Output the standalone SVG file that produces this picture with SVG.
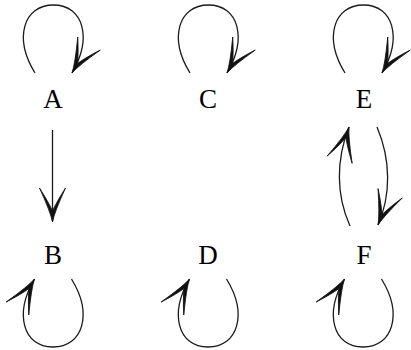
<svg xmlns="http://www.w3.org/2000/svg" width="411" height="350" viewBox="0 0 411 350">
<style>
.lbl{font-family:"Liberation Serif","DejaVu Serif",serif;font-size:27px;fill:#000;text-anchor:middle}
.edge{fill:none;stroke:#1a1a1a;stroke-width:1.3}
.tip{fill:#111;stroke:#111;stroke-width:0.8;stroke-linejoin:round}
</style>
<defs>
<path id="ah" class="tip" d="M0,0 Q-10,-2 -34,-13 Q-20,-4 -11,0 Q-20,4 -34,13 Q-10,2 0,0 Z"/>
</defs>
<g id="connectors">
<g id="loopA">
<path class="edge" d="M-18.5 73 C-40 38 -30 5 0 5 C30 5 39 38 18.5 73" transform="translate(53.5 0)"/>
<use href="#ah" transform="translate(72 73) rotate(120)"/>
</g>
<g id="loopC">
<path class="edge" d="M-18.5 73 C-40 38 -30 5 0 5 C30 5 39 38 18.5 73" transform="translate(208.5 0)"/>
<use href="#ah" transform="translate(227 73) rotate(120)"/>
</g>
<g id="loopE">
<path class="edge" d="M-18.5 73 C-40 38 -30 5 0 5 C30 5 39 38 18.5 73" transform="translate(363.5 0)"/>
<use href="#ah" transform="translate(382 73) rotate(120)"/>
</g>
<g id="loopB">
<path class="edge" d="M18.5 279 C40 314 30 347 0 347 C-30 347 -39 314 -18.5 279" transform="translate(53 0)"/>
<use href="#ah" transform="translate(34.5 279) rotate(300)"/>
</g>
<g id="loopD">
<path class="edge" d="M18.5 279 C40 314 30 347 0 347 C-30 347 -39 314 -18.5 279" transform="translate(208 0)"/>
<use href="#ah" transform="translate(189.5 279) rotate(300)"/>
</g>
<g id="loopF">
<path class="edge" d="M18.5 279 C40 314 30 347 0 347 C-30 347 -39 314 -18.5 279" transform="translate(363 0)"/>
<use href="#ah" transform="translate(344.5 279) rotate(300)"/>
</g>
<g id="AtoB">
<path class="edge" d="M52.5 130 L52.5 221"/>
<use href="#ah" transform="translate(52.5 222) rotate(90)"/>
</g>
<g id="FtoE">
<path class="edge" d="M350 226 C336 195 336 160 349 127"/>
<use href="#ah" transform="translate(349 127) rotate(-74)"/>
</g>
<g id="EtoF">
<path class="edge" d="M377 127 C391 160 391 195 378 225"/>
<use href="#ah" transform="translate(378 225) rotate(111)"/>
</g>
</g>
<g id="A"><text class="lbl" x="53" y="108">A</text></g>
<g id="B"><text class="lbl" x="53" y="264">B</text></g>
<g id="C"><text class="lbl" x="208" y="108">C</text></g>
<g id="D"><text class="lbl" x="208" y="264">D</text></g>
<g id="E"><text class="lbl" x="364" y="108">E</text></g>
<g id="F"><text class="lbl" x="364" y="264">F</text></g>
</svg>
